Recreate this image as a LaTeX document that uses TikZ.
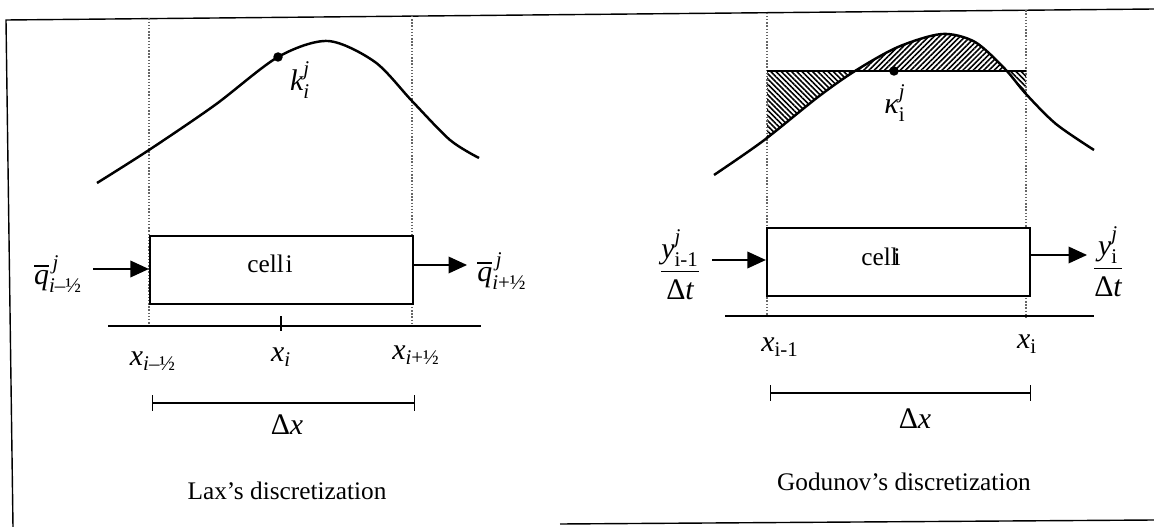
\documentclass[tikz,border=0pt]{standalone}
\usepackage{amsmath}
\usepackage{fontspec}
\setmainfont{Liberation Serif}
\usetikzlibrary{arrows.meta,patterns.meta}

\def\gcurve{plot[smooth] coordinates {(714,175) (763,141) (818,97) (855,71) (898,47) (942,34) (975,42) (1005,69) (1026,94) (1056,124) (1094,150)}}

\begin{document}
\begin{tikzpicture}[x=0.02cm,y=-0.02cm,>={Triangle[length=10.5pt,width=9.5pt]},font=\fontsize{14.4}{17}\selectfont]
\tikzstyle{cellbox}=[draw,line width=1.3pt,minimum width=5.26cm,minimum height=1.36cm,inner sep=0pt]
\tikzstyle{mlab}=[inner sep=1pt,font=\fontsize{17}{20}\selectfont]
\tikzstyle{guide}=[gray!80!black,densely dotted,line width=0.8pt]
\tikzstyle{axis}=[line width=0.9pt]
\tikzstyle{flow}=[->,line width=0.7pt]
\tikzstyle{span}=[{Bar[width=9pt]}-{Bar[width=9pt]},line width=0.6pt]
\tikzstyle{dot}=[circle,fill,inner sep=0pt,minimum size=0.19cm]
\tikzstyle{curve}=[line width=1.4pt]
\tikzstyle{hatch}=[pattern={Lines[angle=#1,distance=2.1pt,line width=0.9pt]}]
\useasboundingbox (0,0) rectangle (1154,527);
\draw[line width=0.8pt] (13,527) -- (6,20) -- (1154,9);
\draw[line width=0.8pt] (560,524) -- (1154,520);
% Lax
\foreach \x/\t in {149/18.5,412/16} \draw[guide] (\x,\t) -- (\x,326);
\draw[curve] plot[smooth] coordinates {(97,183) (149,150) (215,105) (278,57) (328,41) (375,62) (412,101) (450,140) (479,158)};
\node[dot] (kdot) at (278,57) {};
\node[mlab] (klab) at (300,80) {$\textit{k}^{\textit{j}}_{\textit{i}}$};
\node[cellbox,fill=white] (cellL) at (281.5,270) {};
\node (tL) at (270,264) {cell\kern1pt i};
\draw[axis] (108,326) -- (481,326);
\draw[axis] (281,316) -- (281,331);
\coordinate (inL) at (93,269);
\coordinate (outL) at (467,265);
\draw[flow] (inL) -- (cellL.west |- inL);
\draw[flow] (cellL.east |- outL) -- (outL);
\node[mlab] (qinL) at (58,274) {$\overline{\textit{q}}^{\,\textit{j}}_{\text{\textit{i}–½}}$};
\node[mlab] (qoutL) at (502,271) {$\overline{\textit{q}}^{\,\textit{j}}_{\text{\textit{i}+½}}$};
\node[mlab] (xa) at (153,361) {$\textit{x}_{\text{\textit{i}–½}}$};
\node[mlab] (xb) at (281,357) {$\textit{x}_{\textit{i}}$};
\node[mlab] (xc) at (416,355) {$\textit{x}_{\text{\textit{i}+½}}$};
\coordinate (dxa) at (152,403);
\coordinate (dxb) at (415,403);
\draw[span] (dxa) -- (dxb);
\node[mlab] (dxL) at (287,425) {Δ\textit{x}};
\node (capL) at (287,491) {Lax’s discretization};
% Godunov
\begin{scope}
\clip (767,0) rectangle (1026,71);
\fill[hatch=45] \gcurve -- (1094,200) -- (714,200) -- cycle;
\end{scope}
\begin{scope}
\clip (767,71) rectangle (1026,200);
\fill[hatch=-45] \gcurve -- (1094,0) -- (714,0) -- cycle;
\end{scope}
\foreach \x/\t in {767/12.7,1026/10.2} \draw[guide] (\x,\t) -- (\x,317);
\draw[line width=0.8pt] (767,71) -- (1026,71);
\draw[curve] \gcurve;
\node[dot] (kapdot) at (894,71) {};
\node[mlab] (kaplab) at (895,103) {$\textit{κ}^{\textit{j}}_{\text{i}}$};
\node[cellbox,fill=white] (cellR) at (898.5,262) {};
\node (tR) at (881,257) {cel\rlap{l}\kern1.5pt i};
\draw[axis] (725,316) -- (1094,316);
\coordinate (inR) at (712,260);
\coordinate (outR) at (1087,255);
\draw[flow] (inR) -- (cellR.west |- inR);
\draw[flow] (cellR.east |- outR) -- (outR);
\node[mlab] (yinR) at (680,265) {$\dfrac{\textit{y}^{\textit{j}}_{\text{i-1}}}{\text{Δ}\textit{t}}$};
\node[mlab] (youtR) at (1108,262) {$\dfrac{\textit{y}^{\textit{j}}_{\text{i}}}{\text{Δ}\textit{t}}$};
\node[mlab] (xd) at (780,347) {$\textit{x}_{\text{i-1}}$};
\node[mlab] (xe) at (1027,344) {$\textit{x}_{\text{i}}$};
\coordinate (dxc) at (770,393);
\coordinate (dxd) at (1031,393);
\draw[span] (dxc) -- (dxd);
\node[mlab] (dxR) at (915,419) {Δ\textit{x}};
\node (capR) at (904,482) {Godunov’s discretization};
\end{tikzpicture}
\end{document}
